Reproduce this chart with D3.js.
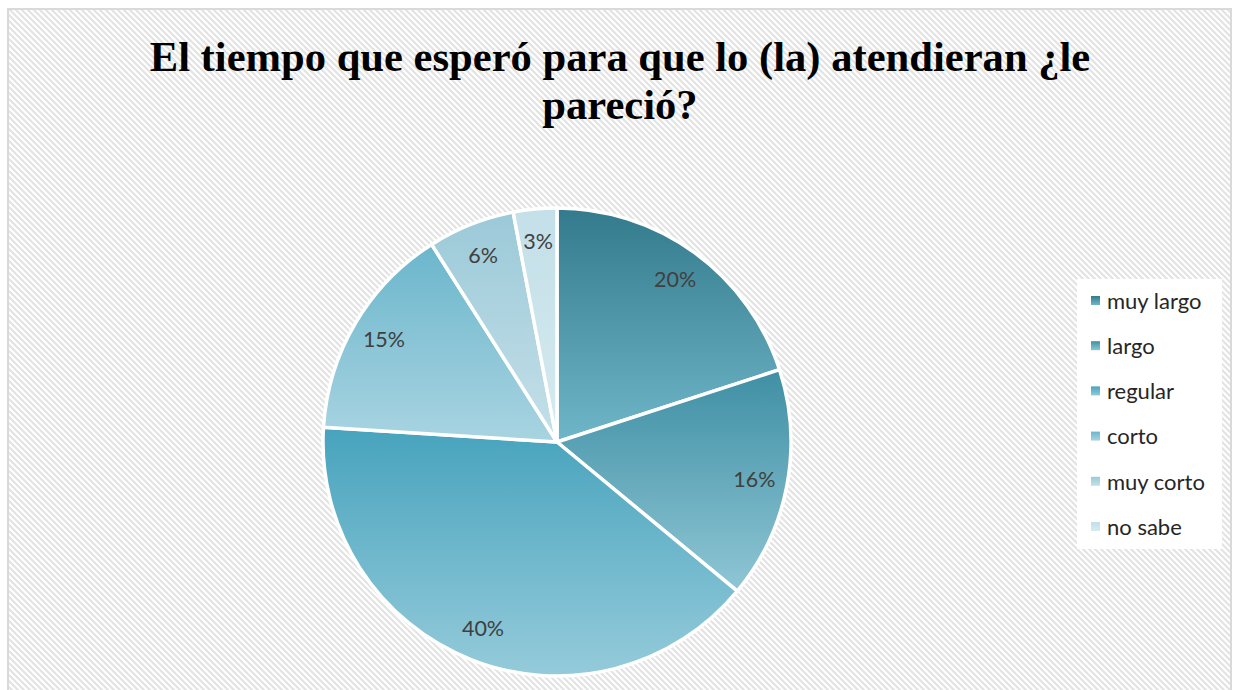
<!DOCTYPE html>
<html>
<head>
<meta charset="utf-8">
<script src="https://cdn.jsdelivr.net/npm/d3@7"></script>
<style>
  html, body { margin: 0; padding: 0; background: #ffffff; }
  svg { display: block; }
</style>
</head>
<body>
<svg id="chart" width="1234" height="690"></svg>
<script>
// Survey answers: perceived waiting time before being attended
const categories = ["muy largo", "largo", "regular", "corto", "muy corto", "no sabe"];
const percentages = [20, 16, 40, 15, 6, 3];
const titleLines = ["El tiempo que esperó para que lo (la) atendieran ¿le", "pareció?"];
// top and bottom gradient stops per slice
const topColors = ["#347a8d", "#3f8fa4", "#47a3bd", "#6bb6cc", "#9bc9d8", "#c3dfe8"];
const bottomColors = ["#70b6c9", "#8fc6d5", "#95cbda", "#a9d4e1", "#c5e0e9", "#d6eaf0"];

const W = 1234, H = 690;
const svg = d3.select("#chart");
const defs = svg.append("defs");

// diagonal hatch background
const pat = defs.append("pattern")
  .attr("id", "hatch").attr("patternUnits", "userSpaceOnUse")
  .attr("width", 6).attr("height", 6);
pat.append("rect").attr("width", 6).attr("height", 6).attr("fill", "#ffffff");
pat.append("path")
  .attr("d", "M-1,-1 L7,7 M-4,2 L2,8 M4,-2 L10,4")
  .attr("stroke", "#e3e3e3").attr("stroke-width", 2.2);

svg.append("rect").attr("x", 0).attr("y", 0).attr("width", W).attr("height", H).attr("fill", "#ffffff");
svg.append("rect")
  .attr("x", 8).attr("y", 9).attr("width", 1223).attr("height", 700)
  .attr("fill", "url(#hatch)")
  .attr("stroke", "#d9d9d9").attr("stroke-width", 2);

// gradients
categories.forEach((c, i) => {
  const g = defs.append("linearGradient")
    .attr("id", "grad" + i).attr("x1", 0).attr("y1", 0).attr("x2", 0).attr("y2", 1);
  g.append("stop").attr("offset", "0%").attr("stop-color", topColors[i]);
  g.append("stop").attr("offset", "100%").attr("stop-color", bottomColors[i]);
});

// title
const title = svg.append("text")
  .attr("text-anchor", "middle")
  .attr("font-family", "'Liberation Serif', 'Times New Roman', serif")
  .attr("font-weight", "bold").attr("font-size", 42.6).attr("fill", "#000000");
titleLines.forEach((t, i) => {
  title.append("tspan").attr("x", 620).attr("y", 71 + i * 48).text(t);
});

// pie
const cx = 557, cy = 442, R = 234;
const pie = d3.pie().sort(null).value(d => d.v);
const data = pie(categories.map((c, i) => ({ c, v: percentages[i], i })));
const arc = d3.arc().innerRadius(0).outerRadius(R);
const labelArc = d3.arc().innerRadius(201).outerRadius(201);

const g = svg.append("g").attr("transform", `translate(${cx},${cy})`);
g.selectAll("path.slice").data(data).enter().append("path")
  .attr("class", "slice")
  .attr("d", arc)
  .attr("fill", d => `url(#grad${d.data.i})`)
  .attr("stroke", "#ffffff").attr("stroke-width", 3.5).attr("stroke-linejoin", "round");

g.selectAll("text.lbl").data(data).enter().append("text")
  .attr("class", "lbl")
  .attr("transform", d => `translate(${labelArc.centroid(d)})`)
  .attr("text-anchor", "middle").attr("dy", "0.35em")
  .attr("font-family", "Lato, 'Open Sans', sans-serif")
  .attr("font-size", 21.5).attr("fill", "#404040")
  .text(d => d.data.v + "%");

// legend
const lg = svg.append("g");
lg.append("rect").attr("x", 1077).attr("y", 279).attr("width", 145).attr("height", 270).attr("fill", "#ffffff");
const ly = d3.scalePoint().domain(categories).range([301, 527]);
categories.forEach((c, i) => {
  const lgGrad = defs.append("linearGradient")
    .attr("id", "lgrad" + i).attr("x1", 0).attr("y1", 0).attr("x2", 0).attr("y2", 1);
  lgGrad.append("stop").attr("offset", "0%").attr("stop-color", topColors[i]);
  lgGrad.append("stop").attr("offset", "100%").attr("stop-color", bottomColors[i]);
  lg.append("rect")
    .attr("x", 1091).attr("y", ly(c) - 5).attr("width", 9).attr("height", 9)
    .attr("fill", `url(#lgrad${i})`);
  lg.append("text")
    .attr("x", 1107).attr("y", ly(c)).attr("dy", "0.35em")
    .attr("font-family", "Lato, 'Open Sans', sans-serif")
    .attr("font-size", 22).attr("fill", "#262626")
    .text(c);
});
</script>
</body>
</html>
